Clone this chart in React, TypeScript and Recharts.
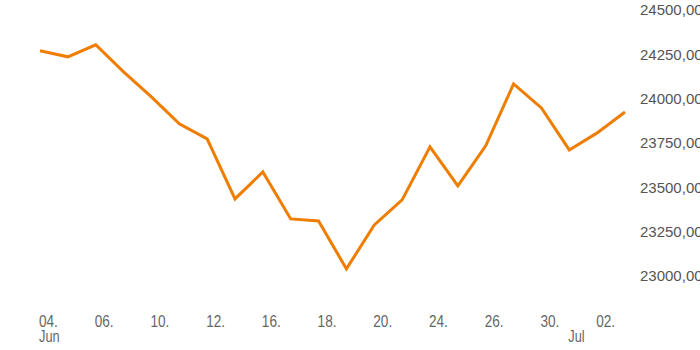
import * as React from "react";
import { LineChart, Line, XAxis, YAxis } from "recharts";

// trading days, Jun 4 – Jul 3
const days = [
  "04", "05", "06", "07", "10", "11", "12", "13", "16", "17", "18",
  "19", "20", "23", "24", "25", "26", "27", "30", "01", "02", "03",
];
const months = [
  "Jun", "Jun", "Jun", "Jun", "Jun", "Jun", "Jun", "Jun", "Jun", "Jun", "Jun",
  "Jun", "Jun", "Jun", "Jun", "Jun", "Jun", "Jun", "Jun", "Jul", "Jul", "Jul",
];
const closes = [
  24270, 24236, 24304, 24151, 24010, 23858, 23773, 23435, 23587, 23322, 23310,
  23040, 23288, 23429, 23728, 23508, 23734, 24083, 23948, 23711, 23807, 23925,
];
const yTicks = [23000, 23250, 23500, 23750, 24000, 24250, 24500];

const data = days.map((d, i) => ({ key: i, day: d, month: months[i], value: closes[i] }));

const showDay = (i: number) => i % 2 === 0;
// month name sits under the first trading day of the month
const showMonth = (i: number) => i === 0 || months[i] !== months[i - 1];
const tickIdx = data.map((_, i) => i).filter((i) => showDay(i) || showMonth(i));

const fmtY = (v: number) => v.toFixed(2).replace(".", ",");

// labels in the reference are a light, narrow grotesque: squeeze Liberation Sans
function DateTick(props: any) {
  const { x, y, payload } = props;
  const i = payload.value as number;
  const d = data[i];
  return (
    <g transform={`translate(${x - 1},${y}) scale(0.8,1)`}>
      {showDay(i) && (
        <text x={0} y={43} textAnchor="start" fill="#666" fontSize={17}>
          {d.day}.
        </text>
      )}
      {showMonth(i) && (
        <text x={0} y={58} textAnchor="start" fill="#666" fontSize={16}>
          {d.month}
        </text>
      )}
    </g>
  );
}

export default function App() {
  return (
    <div style={{ position: "absolute", left: 0, top: 0, background: "#fff" }}>
      <LineChart
        width={700}
        height={350}
        data={data}
        margin={{ top: 10, right: 0, left: 40, bottom: 0 }}
        style={{ fontFamily: "'Liberation Sans', Arial, sans-serif" }}
      >
        <XAxis
          dataKey="key"
          type="category"
          ticks={tickIdx}
          interval={0}
          axisLine={false}
          tickLine={false}
          height={74}
          tick={<DateTick />}
        />
        <YAxis
          orientation="right"
          domain={[23000, 24500]}
          ticks={yTicks}
          tickFormatter={fmtY}
          axisLine={false}
          tickLine={false}
          tickMargin={9}
          width={75}
          tick={{ fill: "#555", fontSize: 15 }}
        />
        <Line
          dataKey="value"
          stroke="#EF7D00"
          strokeWidth={3}
          dot={false}
          isAnimationActive={false}
        />
      </LineChart>
    </div>
  );
}
